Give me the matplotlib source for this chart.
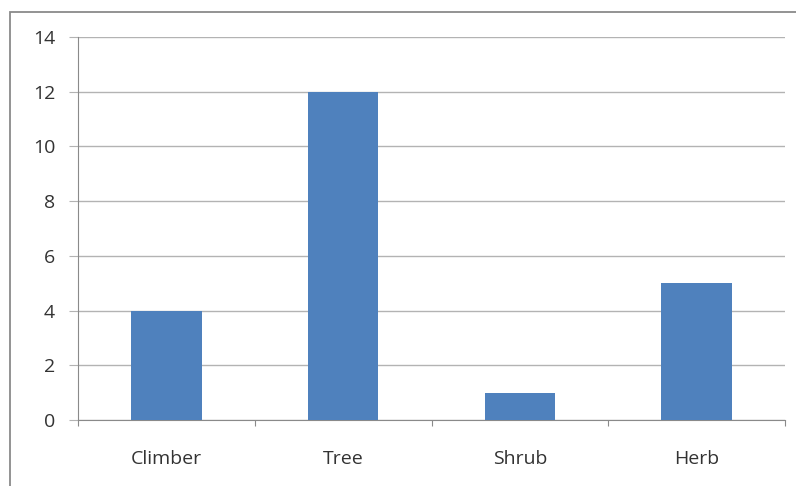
import matplotlib.pyplot as plt
from matplotlib.patches import Rectangle

categories = ["Climber", "Tree", "Shrub", "Herb"]
counts = [4, 12, 1, 5]
y_ticks = [0, 2, 4, 6, 8, 10, 12, 14]

plt.rcParams["font.family"] = ["Open Sans", "DejaVu Sans"]

fig = plt.figure(figsize=(7.96, 4.86), dpi=100)
ax = fig.add_axes([78 / 796, 1 - 420 / 486, (785 - 78) / 796, (420 - 37) / 486])

# outer chart border (only left and top visible in the crop)
fig.patches.append(Rectangle((10 / 796, -0.1), 2, 1 - 12 / 486 + 0.1,
                             transform=fig.transFigure, fill=False,
                             edgecolor="#8a8a8a", linewidth=1.3))

x = range(len(categories))
ax.bar(x, counts, width=0.4, color="#4f81bd", zorder=3)

ax.set_xlim(-0.5, len(categories) - 0.5)
ax.set_ylim(0, 14)
ax.set_yticks(y_ticks)
ax.set_yticklabels([str(v) for v in y_ticks])
ax.yaxis.grid(True, color="#b3b3b3", linewidth=1, zorder=0)

# x ticks sit on category boundaries, labels centred under bars
ax.set_xticks([i - 0.5 for i in range(len(categories) + 1)])
ax.set_xticklabels([])
ax.set_xticks(list(x), minor=True)
ax.set_xticklabels(categories, minor=True)
ax.tick_params(axis="x", which="minor", length=0, pad=21.5)
ax.tick_params(axis="x", which="major", length=4, color="#8a8a8a", direction="out")
ax.tick_params(axis="y", length=6.5, color="#b3b3b3", pad=10)
ax.tick_params(axis="both", which="both", labelsize=14, labelcolor="#333333")

for side in ["top", "right"]:
    ax.spines[side].set_visible(False)
ax.spines["left"].set_color("#8a8a8a")
ax.spines["bottom"].set_color("#8a8a8a")

fig.savefig("out.png", dpi=100)
